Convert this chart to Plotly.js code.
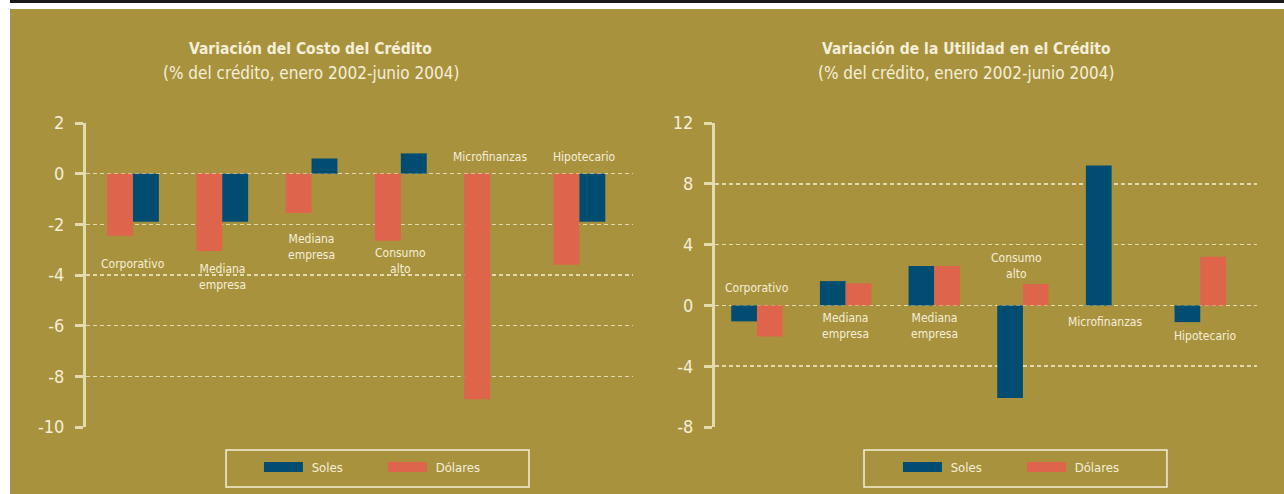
<!DOCTYPE html>
<html>
<head>
<meta charset="utf-8">
<script src="https://cdn.plot.ly/plotly-3.0.1.min.js"></script>
<style>
  html, body { margin: 0; padding: 0; background: #ffffff; }
  #wrap { position: relative; width: 1284px; height: 494px; overflow: hidden; }
  #chart { position: absolute; left: 0; top: 0; width: 1284px; height: 494px; }
  .band { position: absolute; }
</style>
</head>
<body>
<div id="wrap">
  <div id="chart"></div>
  <div class="band" style="left:0;top:0;width:1284px;height:3px;background:#1a1a1a;"></div>
  <div class="band" style="left:0;top:3px;width:1284px;height:6px;background:#ffffff;"></div>
  <div class="band" style="left:0;top:0;width:10px;height:494px;background:#ffffff;"></div>
</div>
<script>
// ---------- DATA ----------
const categories = ["Corporativo", "Mediana\nempresa", "Mediana\nempresa", "Consumo\nalto", "Microfinanzas", "Hipotecario"];

// Left chart: Variación del Costo del Crédito
const costoSoles   = [-1.9, -1.9, 0.6, 0.8, 0, -1.9];
const costoDolares = [-2.45, -3.05, -1.55, -2.65, -8.9, -3.6];

// Right chart: Variación de la Utilidad en el Crédito
const utilSoles   = [-1.05, 1.6, 2.6, -6.1, 9.2, -1.1];
const utilDolares = [-2.05, 1.45, 2.6, 1.4, 0, 3.2];

const leftTickVals  = [2, 0, -2, -4, -6, -8, -10];
const leftTickText  = ["2", "0", "-2", "-4", "-6", "-8", "-10"];
const rightTickVals = [12, 8, 4, 0, -4, -8];
const rightTickText = ["12", "8", "4", "0", "-4", "-8"];

const seriesNames = ["Soles", "Dólares"];

const titles = {
  left:  ["Variación del Costo del Crédito", "(% del crédito, enero 2002-junio 2004)"],
  right: ["Variación de la Utilidad en el Crédito", "(% del crédito, enero 2002-junio 2004)"]
};

// ---------- STYLE ----------
const BG = "#A9923E";
const BLUE = "#014D71";
const RED = "#DE654B";
const CREAM = "#F4EFD9";
const AXIS = "#E4DAB0";
const FONT = "'Liberation Sans Narrow', 'DejaVu Sans Condensed', 'Roboto Condensed', sans-serif";

// label placement (data-space anchors for category captions)
const leftLabelPos  = [[0, -3.58], [1, -4.07], [2, -2.89], [3, -3.46], [4, 0.65], [5.05, 0.65]];
const rightLabelPos = [[0, 1.12], [1, -1.38], [2, -1.38], [2.93, 2.57], [3.92, -1.12], [5.05, -2.04]];

const idx = categories.map((_, i) => i);
const pad = "\u00a0";

const traces = [
  // left subplot: Dólares left, Soles right
  { type: "bar", x: idx, y: costoDolares, name: seriesNames[1], marker: { color: RED }, xaxis: "x", yaxis: "y", showlegend: false, hoverinfo: "skip" },
  { type: "bar", x: idx, y: costoSoles, name: seriesNames[0], marker: { color: BLUE }, xaxis: "x", yaxis: "y", showlegend: false, hoverinfo: "skip" },
  // right subplot: Soles left, Dólares right
  { type: "bar", x: idx, y: utilSoles, name: seriesNames[0], marker: { color: BLUE }, xaxis: "x2", yaxis: "y2", showlegend: false, hoverinfo: "skip" },
  { type: "bar", x: idx, y: utilDolares, name: seriesNames[1], marker: { color: RED }, xaxis: "x2", yaxis: "y2", showlegend: false, hoverinfo: "skip" },
  // legend entries
  { type: "scatter", mode: "lines", x: [null], y: [null], name: pad + seriesNames[0], line: { color: BLUE, width: 11 }, xaxis: "x", yaxis: "y", legend: "legend" },
  { type: "scatter", mode: "lines", x: [null], y: [null], name: pad + seriesNames[1], line: { color: RED, width: 11 }, xaxis: "x", yaxis: "y", legend: "legend" },
  { type: "scatter", mode: "lines", x: [null], y: [null], name: pad + seriesNames[0], line: { color: BLUE, width: 11 }, xaxis: "x2", yaxis: "y2", legend: "legend2" },
  { type: "scatter", mode: "lines", x: [null], y: [null], name: pad + seriesNames[1], line: { color: RED, width: 11 }, xaxis: "x2", yaxis: "y2", legend: "legend2" }
];

function labelAnnots(pos, xref, yref) {
  return categories.map((c, i) => ({
    text: c.split("\n").join("<br>"), xref: xref, yref: yref, x: pos[i][0], y: pos[i][1],
    showarrow: false, xanchor: "center", yanchor: "middle", align: "center",
    font: { family: FONT, size: 12, color: CREAM }
  }));
}

function titleAnnots(t, xc) {
  return [
    { text: "<b>" + t[0] + "</b>", xref: "paper", yref: "paper", x: xc, y: 1.245, showarrow: false,
      xanchor: "center", yanchor: "middle", font: { family: FONT, size: 15.5, color: CREAM } },
    { text: t[1], xref: "paper", yref: "paper", x: xc, y: 1.163, showarrow: false,
      xanchor: "center", yanchor: "middle", font: { family: FONT, size: 17, color: CREAM } }
  ];
}

function yAxis(range, vals, text, anchor) {
  return {
    range: range, tickmode: "array", tickvals: vals, ticktext: text, anchor: anchor,
    showgrid: true, gridcolor: AXIS, gridwidth: 1.5, griddash: "4px,3px",
    zeroline: false, showline: true, linecolor: AXIS, linewidth: 3,
    ticks: "outside", ticklen: 8, tickwidth: 3, tickcolor: AXIS,
    ticklabelstandoff: 7,
    tickfont: { family: FONT, size: 18, color: CREAM }, fixedrange: true
  };
}

function legendBox(x0, x1) {
  return { type: "rect", xref: "paper", yref: "paper", x0: x0, x1: x1, y0: -0.197, y1: -0.0757,
    line: { color: CREAM, width: 1.5 }, fillcolor: "rgba(0,0,0,0)", layer: "above" };
}

const legendBase = {
  orientation: "h", xanchor: "left", yanchor: "top", y: -0.082,
  bgcolor: "rgba(0,0,0,0)", borderwidth: 0,
  font: { family: FONT, size: 13, color: CREAM }, itemwidth: 39, entrywidth: 70,
  itemclick: false, itemdoubleclick: false
};

const layout = {
  width: 1284, height: 494,
  paper_bgcolor: BG, plot_bgcolor: "rgba(0,0,0,0)",
  margin: { l: 86, r: 27, t: 123, b: 67, autoexpand: false },
  barmode: "group", bargap: 0.42, bargroupgap: 0,
  showlegend: true,
  xaxis:  { domain: [0, 0.4671], range: [-0.526, 5.6], visible: false, fixedrange: true },
  xaxis2: { domain: [0.5371, 1], range: [-0.474, 5.64], visible: false, fixedrange: true },
  yaxis:  yAxis([-10, 2], leftTickVals, leftTickText, "x"),
  yaxis2: yAxis([-8, 12], rightTickVals, rightTickText, "x2"),
  legend:  Object.assign({}, legendBase, { x: 0.1477 }),
  legend2: Object.assign({}, legendBase, { x: 0.6934 }),
  shapes: [legendBox(0.1196, 0.3783), legendBox(0.6644, 0.9231)],
  annotations: [].concat(
    titleAnnots(titles.left, 0.192),
    titleAnnots(titles.right, 0.7515),
    labelAnnots(leftLabelPos, "x", "y"),
    labelAnnots(rightLabelPos, "x2", "y2")
  ),
  hovermode: false
};

Plotly.newPlot("chart", traces, layout, { displayModeBar: false, staticPlot: true });
</script>
</body>
</html>
